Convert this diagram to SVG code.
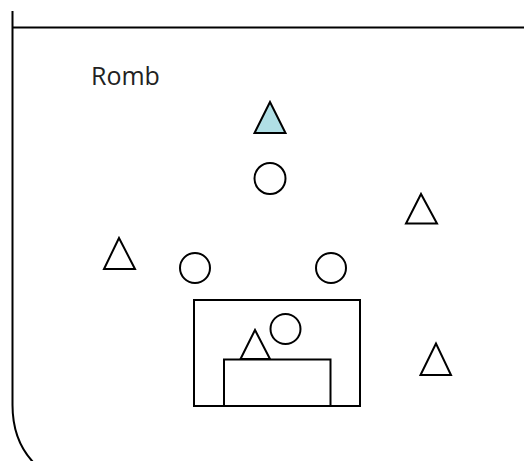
<svg xmlns="http://www.w3.org/2000/svg" width="524" height="461" viewBox="0 0 524 461">
<style>
.s{fill:none;stroke:#000;stroke-width:2}
.w{fill:#fff;stroke:#000;stroke-width:2}
.t{fill:#b0dfe5;stroke:#000;stroke-width:2}
.lbl{font-family:"Open Sans","Noto Sans",sans-serif;font-size:25px;fill:#222}
</style>
<rect width="524" height="461" fill="#fff"/>
<g id="frame">
<path class="s" d="M12.5,11 V405 Q12.5,440 33,462"/>
<line class="s" x1="12.5" y1="27.5" x2="524" y2="27.5"/>
</g>
<text class="lbl" x="91" y="85">Romb</text>
<g id="tri-teal"><polygon class="t" points="270,102 254.5,133 285.5,133"/></g>
<g id="circle-top"><circle class="w" cx="270" cy="178.5" r="15.5"/></g>
<g id="tri-upper-right"><polygon class="w" points="421,194 406,223.5 437,223.5"/></g>
<g id="tri-left"><polygon class="w" points="119,238 104,269 135,269"/></g>
<g id="circle-left"><circle class="w" cx="195" cy="268" r="15"/></g>
<g id="circle-right"><circle class="w" cx="331" cy="268" r="15"/></g>
<g id="box"><rect class="w" x="194" y="300" width="166" height="106"/></g>
<g id="circle-box"><circle class="w" cx="285.5" cy="329" r="15"/></g>
<g id="tri-box"><polygon class="w" points="255,330 240.5,359 270,359"/></g>
<g id="inner-box"><rect class="w" x="224" y="359.5" width="106.5" height="46.5"/></g>
<g id="tri-lower-right"><polygon class="w" points="436,343.5 420.5,375 451,375"/></g>
<g id="connectors"></g>
</svg>
